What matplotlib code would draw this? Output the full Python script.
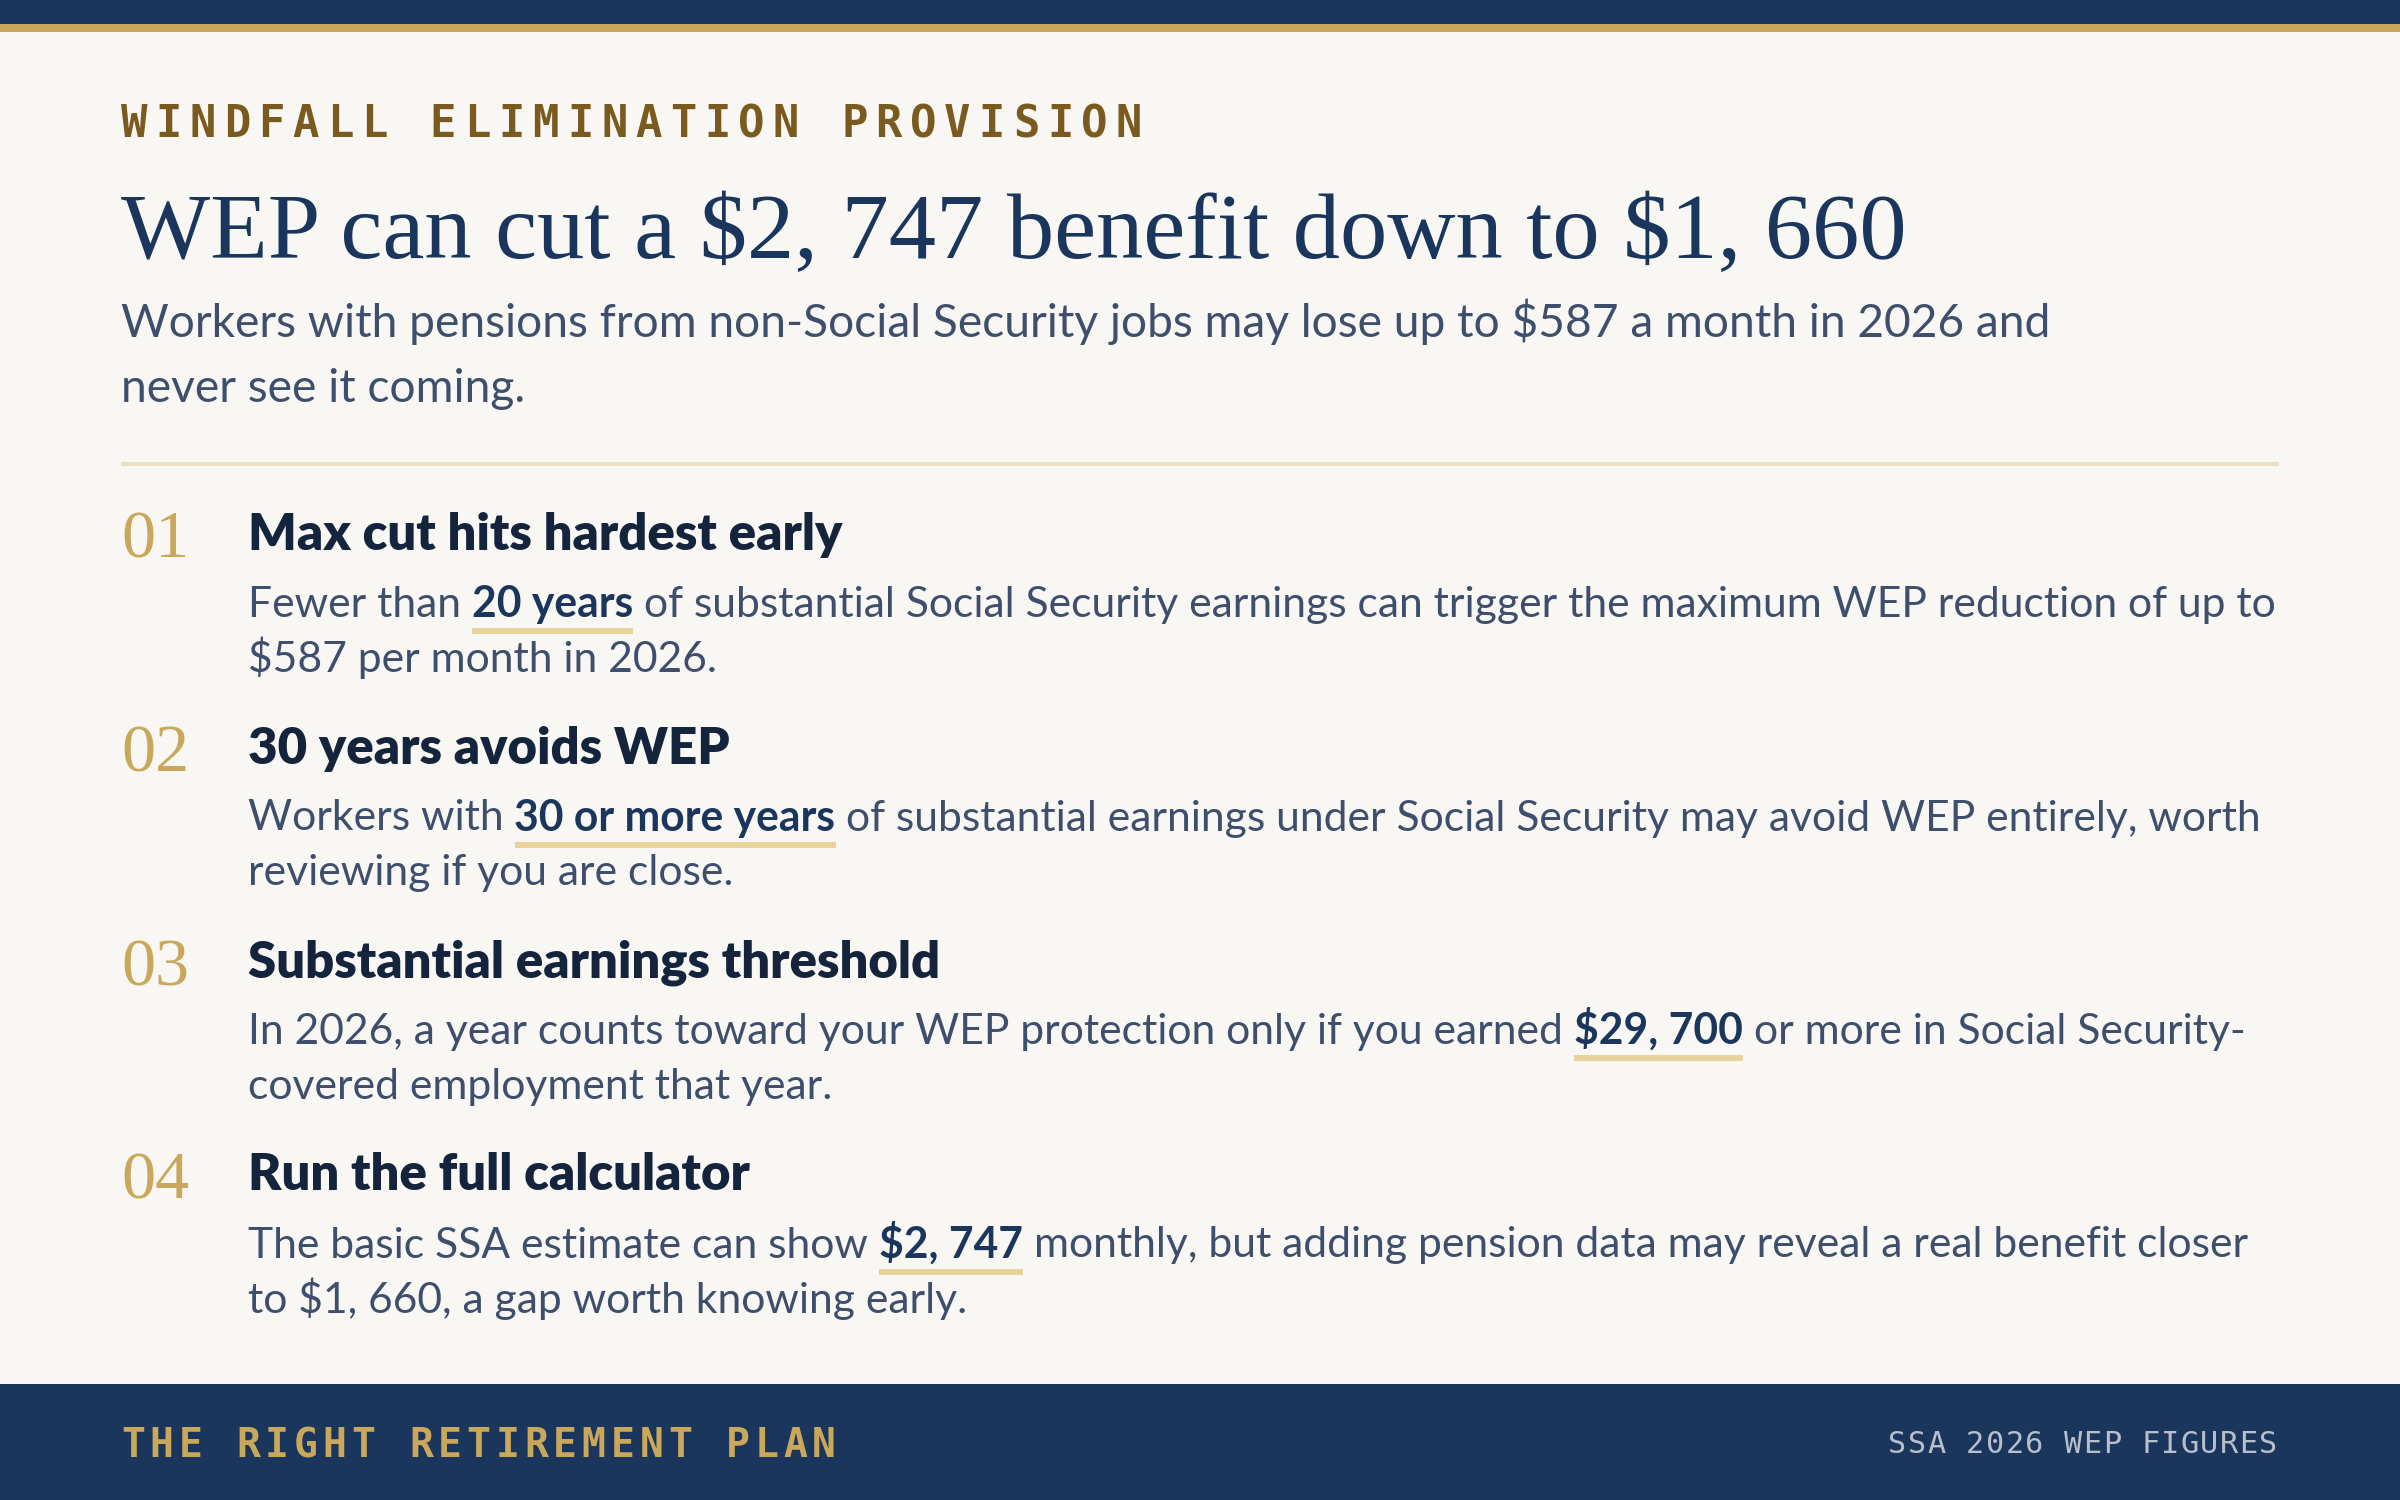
import matplotlib.pyplot as plt
from matplotlib.patches import Rectangle

# Textos de la tarjeta
eyebrow = "WINDFALL ELIMINATION PROVISION"
title = "WEP can cut a $2, 747 benefit down to $1, 660"
subtitle_lines = [
    "Workers with pensions from non-Social Security jobs may lose up to $587 a month in 2026 and",
    "never see it coming.",
]
numbers = ["01", "02", "03", "04"]
headings = [
    "Max cut hits hardest early",
    "30 years avoids WEP",
    "Substantial earnings threshold",
    "Run the full calculator",
]
# ** marca el tramo resaltado
bodies = [
    ["Fewer than **20 years** of substantial Social Security earnings can trigger the maximum WEP reduction of up to",
     "$587 per month in 2026."],
    ["Workers with **30 or more years** of substantial earnings under Social Security may avoid WEP entirely, worth",
     "reviewing if you are close."],
    ["In 2026, a year counts toward your WEP protection only if you earned **$29, 700** or more in Social Security-",
     "covered employment that year."],
    ["The basic SSA estimate can show **$2, 747** monthly, but adding pension data may reveal a real benefit closer",
     "to $1, 660, a gap worth knowing early."],
]
footer_left = "THE RIGHT RETIREMENT PLAN"
footer_right = "SSA 2026 WEP FIGURES"

# Colores
BG = "#f9f7f3"
NAVY = "#1b365d"
GOLD = "#c9a85c"
DARK_GOLD = "#7a5a1e"
SLATE = "#3e4f6d"
INK = "#15243d"
HILITE = "#e8d49b"
RULE = "#ebdfc9"

SANS = ["Lato", "DejaVu Sans"]
SERIF = ["Liberation Serif", "DejaVu Serif"]
MONO = ["DejaVu Sans Mono"]

W, H, DPI = 2400, 1500, 200
fig = plt.figure(figsize=(W / DPI, H / DPI), dpi=DPI, facecolor=BG)
ax = fig.add_axes([0, 0, 1, 1])
ax.set_xlim(0, W)
ax.set_ylim(H, 0)
ax.axis("off")
renderer = fig.canvas.get_renderer()


def put(x, y, s, **kw):
    kw.setdefault("va", "baseline")
    kw.setdefault("ha", "left")
    return ax.text(x, y, s, parse_math=False, **kw)


def width_of(t):
    bb = t.get_window_extent(renderer)
    return bb.x0, bb.x1


def spaced(text, x, y, pitch, size, color, align="left", weight="bold"):
    # letter-spacing a mano, un caracter a la vez
    n = len(text)
    if align == "right":
        probe = put(0, 0, text[-1], fontsize=size, family=MONO, weight=weight)
        x0, x1 = width_of(probe)
        probe.remove()
        x = x - (n - 1) * pitch - (x1 - x0)
    for i, ch in enumerate(text):
        if ch != " ":
            put(x + i * pitch, y, ch, fontsize=size, family=MONO, weight=weight, color=color)


def space_width(size, weight):
    a = put(0, 0, "a a", fontsize=size, family=SANS, weight=weight)
    b = put(0, 0, "aa", fontsize=size, family=SANS, weight=weight)
    wa = width_of(a)[1] - width_of(a)[0]
    wb = width_of(b)[1] - width_of(b)[0]
    a.remove()
    b.remove()
    return wa - wb


def rich_line(line, x, y, size):
    parts = line.split("**")
    for k, part in enumerate(parts):
        hl = k % 2 == 1
        weight = "bold" if hl else "normal"
        sw = space_width(size, weight)
        lead = len(part) - len(part.lstrip(" "))
        trail = len(part) - len(part.rstrip(" "))
        core = part.strip(" ")
        x += lead * sw
        if core:
            t = put(x, y, core, fontsize=size, family=SANS, weight=weight,
                    color=NAVY if hl else SLATE)
            x0, x1 = width_of(t)
            if hl:
                ax.add_patch(Rectangle((x0, y + 11), x1 - x0, 6, color=HILITE, lw=0, zorder=1))
            x = x1
        x += trail * sw


# franjas superiores y pie
ax.add_patch(Rectangle((0, 0), W, 24, color=NAVY, lw=0))
ax.add_patch(Rectangle((0, 24), W, 8, color=GOLD, lw=0))
ax.add_patch(Rectangle((0, 1384), W, H - 1384, color=NAVY, lw=0))

left = 121
spaced(eyebrow, left, 137, 34.3, 15.8, DARK_GOLD)
put(left, 258, title, fontsize=34, family=SERIF, color=NAVY)
for i, line in enumerate(subtitle_lines):
    put(left, 337 + i * 65, line, fontsize=16.6, family=SANS, color=SLATE)

ax.add_patch(Rectangle((left, 462), 2279 - left, 3.5, color=RULE, lw=0))

text_x = 248
for i in range(len(headings)):
    base = 550 + i * 213.5
    put(left, base + 8, numbers[i], fontsize=24.5, family=SERIF, color=GOLD)
    put(text_x, base, headings[i], fontsize=18.3, family=SANS, weight="heavy", color=INK)
    for j, line in enumerate(bodies[i]):
        rich_line(line, text_x, base + 67 + j * 55, 15.35)

spaced(footer_left, left, 1457, 28.8, 14.3, GOLD)
spaced(footer_right, 2277, 1453, 19.5, 10.9, "#b7bfcc", align="right", weight="normal")

fig.savefig("out.png", dpi=DPI, facecolor=BG)
